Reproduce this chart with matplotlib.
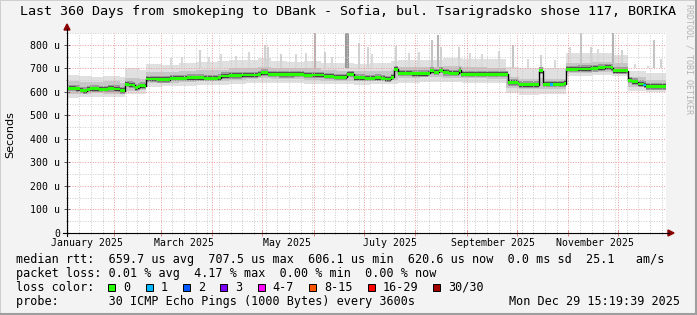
import matplotlib
matplotlib.use("Agg")
import matplotlib.pyplot as plt
from matplotlib.patches import Rectangle, Polygon
from matplotlib.lines import Line2D
import numpy as np

W, H = 697, 315

title = "Last 360 Days from smokeping to DBank - Sofia, bul. Tsarigradsko shose 117, BORIKA"

# time axis in days since 1 Jan 2025
t_start, t_end = 2.64, 362.64
month_starts = [31, 59, 90, 120, 151, 181, 212, 243, 273, 304, 334]
week_lines = list(range(3, 363, 7))
month_label_days = [14.6, 73.2, 134.6, 196.7, 258.5, 320.2]
month_labels = ["January 2025", "March 2025", "May 2025", "July 2025",
                "September 2025", "November 2025"]

y_ticks = [0, 100, 200, 300, 400, 500, 600, 700, 800]
y_labels = ["0", "100 u", "200 u", "300 u", "400 u", "500 u", "600 u", "700 u", "800 u"]

# median rtt (microseconds), step values starting at each day
median_days = [2.64, 8, 10.5, 12.3, 14.8, 16.6, 22, 27, 31, 34.6, 37.7, 40, 42.5,
               43.7, 45.5, 46.7, 49.7, 50.3, 57, 64.8, 75, 85, 93.1, 94.9, 100,
               108, 117.2, 119, 123.2, 130, 138.9, 145, 150, 156.9, 163, 170.2,
               171, 175, 182, 188, 191.3, 194, 197.3, 199, 201.5, 210, 219.6, 221,
               223.5, 226, 228.6, 232, 237.7, 238.3, 239.5, 250, 266.6, 267.8,
               273.8, 274.4, 285.8, 286.6, 288.9, 295, 301.5, 302.7, 310, 317.8,
               322, 326, 329.8, 331, 338.9, 340.1, 342, 346.1, 349.7, 350.9, 362.64]
median_us = [616, 614, 608, 605, 612, 614, 612, 615, 613, 606, 633, 630, 628,
             618, 622, 626, 624, 655, 653, 658, 660, 658, 661, 668, 670,
             672, 676, 682, 676, 674, 675, 671, 672, 667, 663, 664,
             675, 660, 659, 661, 658, 655, 662, 697, 680, 678, 680, 690,
             684, 693, 683, 679, 681, 692, 676, 676, 676, 640,
             637, 631, 631, 690, 633, 633, 636, 697, 698, 700,
             703, 706, 703, 690, 691, 650, 643, 634, 630, 623, 623]

# smoke envelopes (outer and inner quantile bands)
smoke_days = [2.64, 10, 17, 25, 34.6, 37.7, 46.7, 50.3, 60, 70, 80, 93, 100, 110,
              117.2, 125, 135, 145, 155, 165, 175, 185, 197.3, 201.5, 215, 228.6,
              240, 255, 266.6, 274.4, 286.4, 289.5, 302.7, 318, 330, 340.1, 350.9,
              362.64]
smoke_top = [672, 668, 665, 670, 662, 700, 695, 720, 715, 722, 728, 730, 735, 738,
             745, 730, 728, 730, 725, 722, 720, 722, 730, 735, 738, 745,
             742, 740, 705, 700, 705, 700, 765, 768, 758, 690, 680, 680]
smoke_bottom = [575, 578, 580, 578, 580, 590, 592, 622, 625, 625, 628, 630, 635, 638,
                640, 640, 640, 636, 634, 632, 630, 632, 635, 640, 642, 642,
                640, 638, 595, 588, 592, 590, 670, 672, 668, 605, 600, 600]
smoke_mid_top = [645, 643, 642, 645, 638, 660, 655, 685, 684, 690, 692, 693, 700, 702,
                 705, 702, 700, 700, 695, 690, 690, 688, 695, 705, 705, 710,
                 705, 702, 665, 655, 660, 655, 725, 728, 725, 665, 650, 650]
smoke_mid_bottom = [590, 592, 595, 593, 595, 605, 608, 638, 640, 642, 645, 648, 652, 655,
                    658, 656, 655, 652, 648, 646, 645, 645, 650, 660, 662, 660,
                    658, 656, 618, 612, 612, 612, 682, 685, 680, 620, 610, 610]

# single-sample outliers
spike_days = [82.6, 121.4, 123.5, 131, 151.5, 157.7, 170.6, 171.4, 178, 183.4,
              200.3, 222, 225.6, 227.4, 238, 270.8, 287.7, 311.7, 317.8, 331,
              336, 355.7, 359.9,
              65, 72, 88, 95, 104, 112, 140, 146, 162, 186, 208, 214, 245, 252,
              262, 280, 296, 305, 322, 344, 352]
spike_top = [779, 800, 790, 762, 851, 770, 851, 851, 808, 790,
             795, 820, 842, 790, 790, 800, 757, 851, 790, 851,
             780, 820, 740,
             745, 750, 748, 760, 755, 770, 760, 765, 750, 760, 765, 770, 765, 760,
             775, 740, 735, 790, 785, 720, 710]
spike_shade = ["#d2d2d2", "#d2d2d2", "#d2d2d2", "#d2d2d2", "#b4b4b4", "#d2d2d2",
               "#9a9a9a", "#9a9a9a", "#d2d2d2", "#d2d2d2", "#d2d2d2", "#c4c4c4",
               "#b4b4b4", "#d2d2d2", "#d2d2d2", "#c4c4c4", "#d2d2d2", "#c4c4c4",
               "#d2d2d2", "#b4b4b4", "#d2d2d2", "#c4c4c4", "#d2d2d2"] + ["#dadada"] * 21

# samples with 1 lost ping
loss_days = [293.7, 349.9]

stat_lines = [
    "median rtt:  659.7 us avg  707.5 us max  606.1 us min  620.6 us now  0.0 ms sd  25.1   am/s",
    "packet loss: 0.01 % avg  4.17 % max  0.00 % min  0.00 % now",
]
loss_names = ["0", "1", "2", "3", "4-7", "8-15", "16-29", "30/30"]
loss_colors = ["#26ff00", "#00b8ff", "#0059ff", "#7e00ff", "#ff00fe", "#ff5500",
               "#ff0000", "#a10000"]
probe_text = "probe:       30 ICMP Echo Pings (1000 Bytes) every 3600s"
stamp = "Mon Dec 29 15:19:39 2025"

MONO = "DejaVu Sans Mono"


def fx(px):
    return px / W


def fy(py):
    return 1 - py / H


fig = plt.figure(figsize=(W / 100, H / 100), dpi=100, facecolor="#f3f3f3")

# frame shading
fig.add_artist(Rectangle((0, 0), 1, 1, transform=fig.transFigure, fill=False,
                         edgecolor="#cfcfcf", lw=1.4))
fig.add_artist(Line2D([0, 1], [fy(314), fy(314)], color="#9e9e9e", lw=1.5))
fig.add_artist(Line2D([fx(696), fx(696)], [0, 1], color="#9e9e9e", lw=1.5))

ax = fig.add_axes([fx(67), fy(233), (666 - 67) / W, 200 / H])
ax.set_facecolor("white")
ax.set_xlim(t_start, t_end)
ax.set_ylim(0, 851)
for s in ax.spines.values():
    s.set_visible(False)

md = np.array(median_days)
mu = np.array(median_us)
sd = np.array(smoke_days)

# smoke layers
for d, top, c in zip(spike_days, spike_top, spike_shade):
    ax.vlines(d, 700, top, colors=c, lw=1.5, zorder=1.1)
ax.fill_between(sd, smoke_bottom, smoke_top, step="post", color="#e0e0e0", lw=0, zorder=1)
ax.fill_between(sd, smoke_mid_bottom, smoke_mid_top, step="post", color="#c6c6c6", lw=0, zorder=1.2)
ax.fill_between(md, mu - 13, mu + 15, step="post", color="#9a9a9a", lw=0, zorder=1.4)
ax.fill_between(md, mu - 8, mu + 9, step="post", color="#555555", lw=0, zorder=1.6)

# grid on top of the smoke
dots = (0, (1.0, 1.6))
for v in range(50, 851, 100):
    ax.axhline(v, color="#cacaca", lw=0.7, ls=dots, zorder=2)
for v in range(100, 851, 100):
    ax.axhline(v, color="#ee9a9a", lw=0.7, ls=dots, zorder=2.1)
for d in week_lines:
    if d not in month_starts:
        ax.axvline(d, color="#cacaca", lw=0.7, ls=dots, zorder=2)
for d in month_starts:
    ax.axvline(d, color="#ee9a9a", lw=0.7, ls=dots, zorder=2.1)

# median line: black outline plus green band
ax.plot(md, mu, drawstyle="steps-post", color="black", lw=1.0, zorder=4)
ax.fill_between(md, mu - 6, mu + 6, step="post", color="#26ff00", lw=0, zorder=5)
for d in loss_days:
    i = np.searchsorted(md, d) - 1
    ax.fill_between([d - 0.8, d + 0.8], mu[i] - 6, mu[i] + 6, color="#00b8ff", lw=0, zorder=5.5)

# ticks
ax.set_yticks(y_ticks)
ax.set_yticklabels(y_labels, family=MONO, fontsize=7.1)
ax.set_yticks(range(50, 851, 100), minor=True)
ax.tick_params(axis="y", which="major", direction="inout", length=4, width=0.7,
               color="#555555", pad=3)
ax.tick_params(axis="y", which="minor", direction="inout", length=2, width=0.7,
               color="#888888")
ax.set_xticks(month_starts)
ax.set_xticks(week_lines, minor=True)
ax.set_xticklabels([])
ax.tick_params(axis="x", which="major", direction="inout", length=4, width=0.7,
               color="#e08080")
ax.tick_params(axis="x", which="minor", direction="inout", length=2, width=0.7,
               color="#aaaaaa")

for d, lab in zip(month_label_days, month_labels):
    ax.text(d, -0.0485, lab, transform=ax.get_xaxis_transform(), ha="center",
            va="center", family=MONO, fontsize=7.1)

# axis lines with arrows
arrow_c = "#8b0000"
fig.add_artist(Line2D([fx(63), fx(669)], [fy(233), fy(233)], color="black", lw=0.8))
fig.add_artist(Line2D([fx(67), fx(67)], [fy(236), fy(29)], color="black", lw=0.8))
fig.add_artist(Polygon([(fx(64), fy(30)), (fx(70), fy(30)), (fx(67), fy(24))],
                       closed=True, transform=fig.transFigure, color=arrow_c))
fig.add_artist(Polygon([(fx(668), fy(230)), (fx(668), fy(236)), (fx(674), fy(233))],
                       closed=True, transform=fig.transFigure, color=arrow_c))

# texts
fig.text(fx(348), fy(12), title, ha="center", va="center", family=MONO, fontsize=9.6)
fig.text(fx(10), fy(135), "Seconds", rotation=90, ha="center", va="center",
         family="DejaVu Sans", fontsize=8)
fig.text(fx(689), fy(4), "RRDTOOL / TOBI OETIKER", rotation=270, ha="center",
         va="top", family=MONO, fontsize=6, color="#b4b4b4")

row_y = [259.3, 273.3, 287.3, 301.2]
cw = 7.1
fs = 8.5
for txt, y in zip(stat_lines, row_y[:2]):
    fig.text(fx(16), fy(y), txt, ha="left", va="center", family=MONO, fontsize=fs)

fig.text(fx(16), fy(row_y[2]), "loss color:", ha="left", va="center", family=MONO, fontsize=fs)
x = 108.4
for name, col in zip(loss_names, loss_colors):
    fig.add_artist(Rectangle((fx(x), fy(row_y[2] + 3.6)), 7 / W, 7 / H,
                             transform=fig.transFigure, facecolor=col,
                             edgecolor="black", lw=0.7))
    fig.text(fx(x + 15.2), fy(row_y[2]), name, ha="left", va="center",
             family=MONO, fontsize=fs)
    x = x + 15.2 + len(name) * cw + 15

fig.text(fx(16), fy(row_y[3]), probe_text, ha="left", va="center", family=MONO, fontsize=fs)
fig.text(fx(680), fy(row_y[3]), stamp, ha="right", va="center", family=MONO, fontsize=fs)

fig.savefig("out.png", dpi=100, facecolor=fig.get_facecolor())
